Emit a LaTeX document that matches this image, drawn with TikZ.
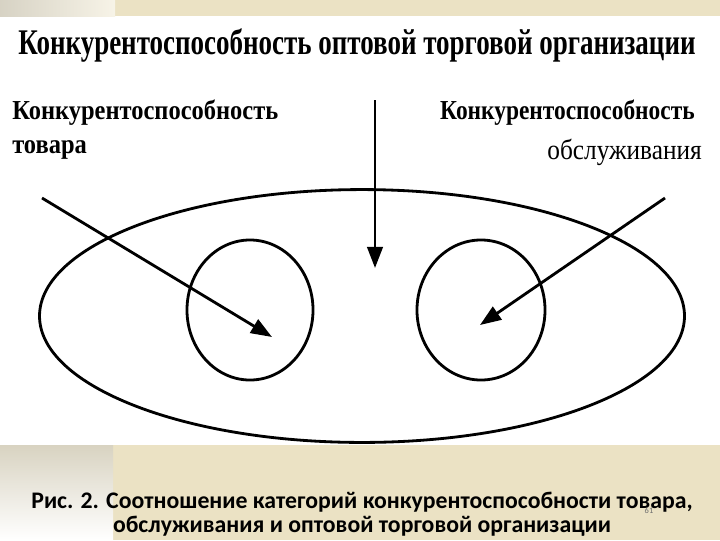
\documentclass[tikz,border=0pt]{standalone}
\usepackage{fontspec}
\setmainfont{Liberation Serif}
\newfontfamily\capfont{Carlito}
\usepackage{tikz}
\usetikzlibrary{arrows.meta,shapes.geometric}

\definecolor{bandbeige}{RGB}{235,226,196}
\definecolor{pagegray}{RGB}{110,110,110}

\newcommand{\narrowtext}[3]{\scalebox{#1}[#2]{#3}}

\begin{document}
\begin{tikzpicture}[x=0.025cm,y=-0.025cm]
            % background of the slide
            \useasboundingbox (0,0) rectangle (720,540);
            \fill[white] (0,0) rectangle (720,540);
            \fill[bandbeige] (115,0) rectangle (720,16);
            \shade[left color=bandbeige!80!black!60!white, right color=bandbeige!40!white] (0,0) rectangle (115,16);
            \fill[bandbeige] (113,445) rectangle (720,540);
            \shade[top color=bandbeige!85!black!70!white, bottom color=white] (0,445) rectangle (113,540);

            \begin{scope}[every node/.style={font=\bfseries\fontsize{15}{18}\selectfont,inner sep=0pt}]
                \node (title) at (357,45) {\narrowtext{1.01}{1.35}{\fontsize{19}{22}\selectfont Конкурентоспособность оптовой торговой организации}};
                \node[anchor=west] (goodsA) at (12,113) {\narrowtext{1.16}{1.3}{Конкурентоспособность}};
                \node[anchor=west] (goodsB) at (12,150) {\narrowtext{1.16}{1.3}{товара}};
                \node[anchor=east] (servA) at (695,113) {\narrowtext{1.11}{1.3}{Конкурентоспособность}};
                \node[anchor=east] (servB) at (702,152) {\narrowtext{1.2}{1.35}{\mdseries обслуживания}};
            \end{scope}

            \begin{scope}[every node/.style={ellipse,draw=black,line width=2pt,inner sep=0pt}]
                \node[minimum width=16.12cm,minimum height=6.32cm] (org) at (362,316) {};
                \node[minimum width=3.15cm,minimum height=3.5cm] (goods) at (250,310) {};
                \node[minimum width=3.2cm,minimum height=3.5cm] (serv) at (481,310) {};
            \end{scope}

            \coordinate (a1) at (42,198);
            \coordinate (a2) at (665,198);
            \coordinate (a3) at (375,100);
            \coordinate (t1) at (272,337);
            \coordinate (t2) at (480,325);
            \coordinate (t3) at (375,268);

            \begin{scope}[>={Triangle[length=15pt,width=11pt]},
                          every path/.style={draw=black,line width=2pt}]
                \draw[->] (a1) -- (t1);
                \draw[->] (a2) -- (t2);
                \draw[->] (a3) -- (t3);
            \end{scope}

            \node[align=center,inner sep=0pt,font=\capfont\bfseries\fontsize{16.9}{17}\selectfont] (caption) at (362,514) {Рис. 2. Соотношение категорий конкурентоспособности товара,\\обслуживания и оптовой торговой организации};
            \node[text=pagegray,inner sep=0pt,font=\capfont\fontsize{6}{7}\selectfont] (page) at (649,511) {61};
\end{tikzpicture}
\end{document}
